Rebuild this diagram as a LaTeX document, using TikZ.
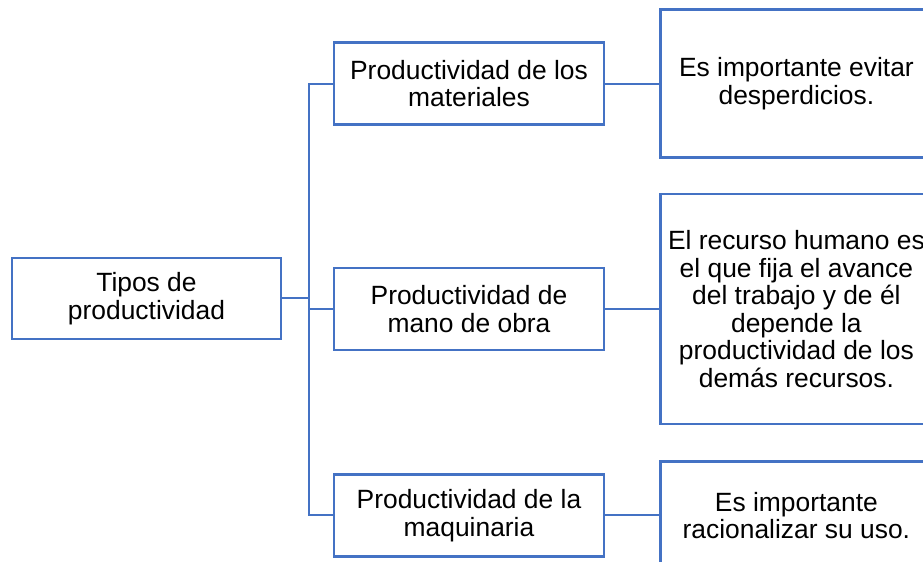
\documentclass[tikz,border=0pt]{standalone}
\usepackage{fontspec}
\setmainfont{Liberation Sans}
\usepackage{xcolor}
\usetikzlibrary{positioning}
\definecolor{boxblue}{HTML}{4472C4}

\begin{document}
\begin{tikzpicture}[x=0.5pt, y=0.5pt, node distance=27pt,
		box/.style={draw=boxblue, line width=1.2pt, align=center, inner sep=2pt,
			font=\fontsize{13.2}{13.8}\selectfont},
		tipo/.style={box, minimum width=135pt, minimum height=41pt},
		nota/.style={box, minimum width=136pt},
		link/.style={draw=boxblue, line width=1pt}]
		\useasboundingbox (0,0) rectangle (923,562);

		\node[box, minimum width=134.5pt, minimum height=40.5pt] (root) at (146.5,263.5) {Tipos de\\productividad};
		\node[tipo] (m2) at (469,253) {Productividad de\\mano de obra};
		\node[tipo] (m1) [above=70.5pt of m2] {Productividad de los\\materiales};
		\node[tipo] (m3) [below=61pt of m2] {Productividad de la\\maquinaria};

		\node[nota, minimum height=74pt] (n1) [right=of m1] {Es importante evitar\\desperdicios.};
		\node[nota, minimum height=115pt] (n2) [right=of m2] {El recurso humano es\\el que fija el avance\\del trabajo y de él\\depende la\\productividad de los\\demás recursos.};
		\node[nota, minimum height=54pt] (n3) [right=of m3] {Es importante\\racionalizar su uso.};

		\path[link] (root.east) -- ++(27,0) coordinate (spine);
		\path[link] (spine) |- (m1.west);
		\path[link] (spine) |- (m2.west);
		\path[link] (spine) |- (m3.west);
		\path[link] (m1.east) -- (n1.west);
		\path[link] (m2.east) -- (n2.west);
		\path[link] (m3.east) -- (n3.west);
	\end{tikzpicture}
\end{document}
